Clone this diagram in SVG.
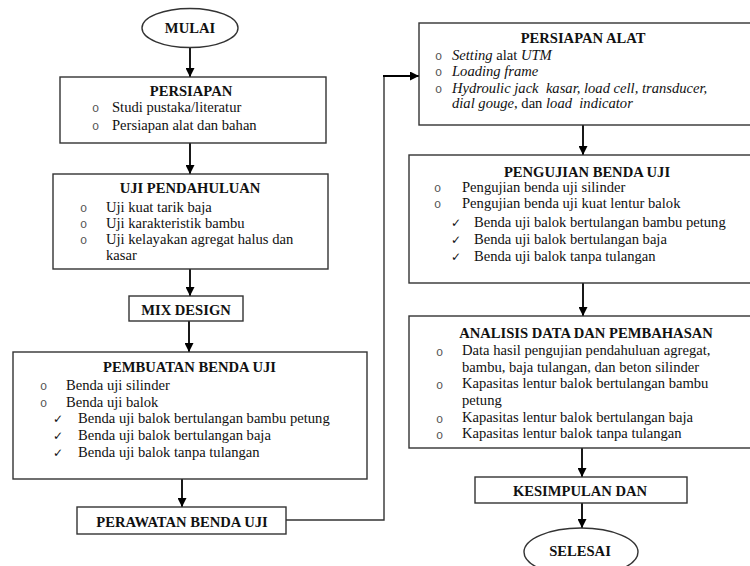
<svg xmlns="http://www.w3.org/2000/svg" width="750" height="566" viewBox="0 0 750 566">
<defs>
<marker id="ah" viewBox="0 0 10 10" refX="10" refY="5" markerWidth="5" markerHeight="5" orient="auto" markerUnits="strokeWidth">
<path d="M0,0 L10,5 L0,10 z" fill="#000"/>
</marker>
<style>
.box{fill:#fff;stroke:#333;stroke-width:1.4}
.t{font-family:"Liberation Serif","Times New Roman",serif;font-size:14.6px;fill:#111}
.h{font-family:"Liberation Serif","Times New Roman",serif;font-size:14.6px;font-weight:bold;fill:#111;text-anchor:middle}
.b{font-family:"Liberation Mono","Courier New",monospace;font-size:12px;fill:#555}
.c{font-family:"DejaVu Sans",sans-serif;font-size:12px;fill:#111}
.i{font-style:italic}
.con{fill:none;stroke:#000;stroke-width:1.8}
.lnk{fill:none;stroke:#333;stroke-width:1.4}
</style>
</defs>
<rect width="750" height="566" fill="#fff"/>

<g id="connectors">
<line class="con" x1="190" y1="47" x2="190" y2="77" marker-end="url(#ah)"/>
<line class="con" x1="190" y1="143" x2="190" y2="174" marker-end="url(#ah)"/>
<line class="con" x1="190" y1="269" x2="190" y2="296" marker-end="url(#ah)"/>
<line class="con" x1="189" y1="321" x2="189" y2="352" marker-end="url(#ah)"/>
<line class="con" x1="182" y1="479" x2="182" y2="507" marker-end="url(#ah)"/>
<polyline class="lnk" points="286,520 384,520 384,76 400,76"/>
<line class="con" x1="383" y1="76" x2="419" y2="76" marker-end="url(#ah)"/>
<line class="con" x1="583" y1="125" x2="583" y2="155" marker-end="url(#ah)"/>
<line class="con" x1="583" y1="283" x2="583" y2="316" marker-end="url(#ah)"/>
<line class="con" x1="582" y1="448" x2="582" y2="477" marker-end="url(#ah)"/>
<line class="con" x1="582" y1="503" x2="582" y2="528" marker-end="url(#ah)"/>
</g>

<g id="mulai">
<ellipse class="box" cx="190" cy="28" rx="48" ry="19.5"/>
<text class="h" x="190" y="33">MULAI</text>
</g>

<g id="persiapan">
<rect class="box" x="60" y="77" width="266" height="66"/>
<text class="h" x="191" y="96">PERSIAPAN</text>
<text class="b" x="92" y="112">o</text><text class="t" x="112" y="112">Studi pustaka/literatur</text>
<text class="b" x="92" y="130">o</text><text class="t" x="112" y="130">Persiapan alat dan bahan</text>
</g>

<g id="uji-pendahuluan">
<rect class="box" x="53" y="174" width="275" height="95"/>
<text class="h" x="190" y="193">UJI PENDAHULUAN</text>
<text class="b" x="80" y="212">o</text><text class="t" x="106" y="212">Uji kuat tarik baja</text>
<text class="b" x="80" y="228">o</text><text class="t" x="106" y="228">Uji karakteristik bambu</text>
<text class="b" x="80" y="244">o</text><text class="t" x="106" y="244">Uji kelayakan agregat halus dan</text>
<text class="t" x="106" y="260">kasar</text>
</g>

<g id="mix-design">
<rect class="box" x="129" y="296" width="114" height="25"/>
<text class="h" x="186" y="315">MIX DESIGN</text>
</g>

<g id="pembuatan">
<rect class="box" x="13" y="352" width="354" height="127"/>
<text class="h" x="189.5" y="372">PEMBUATAN BENDA UJI</text>
<text class="b" x="40" y="390">o</text><text class="t" x="66" y="390">Benda uji silinder</text>
<text class="b" x="40" y="407">o</text><text class="t" x="66" y="407">Benda uji balok</text>
<text class="c" x="53" y="423">✓</text><text class="t" x="78" y="423">Benda uji balok bertulangan bambu petung</text>
<text class="c" x="53" y="440">✓</text><text class="t" x="78" y="440">Benda uji balok bertulangan baja</text>
<text class="c" x="53" y="457">✓</text><text class="t" x="78" y="457">Benda uji balok tanpa tulangan</text>
</g>

<g id="perawatan">
<rect class="box" x="77" y="507" width="209" height="27"/>
<text class="h" x="182" y="527">PERAWATAN BENDA UJI</text>
</g>

<g id="persiapan-alat">
<rect class="box" x="419" y="23" width="345" height="102"/>
<text class="h" x="583" y="43">PERSIAPAN ALAT</text>
<text class="b" x="435" y="60">o</text><text class="t" x="452" y="60"><tspan class="i">Setting</tspan> alat <tspan class="i">UTM</tspan></text>
<text class="b" x="435" y="76">o</text><text class="t i" x="452" y="76">Loading frame</text>
<text class="b" x="435" y="93">o</text><text class="t i" x="452" y="93" xml:space="preserve">Hydroulic jack  kasar, load cell, transducer,</text>
<text class="t" x="452" y="108" xml:space="preserve"><tspan class="i">dial gouge</tspan>, dan <tspan class="i">load  indicator</tspan></text>
</g>

<g id="pengujian">
<rect class="box" x="409" y="155" width="355" height="128"/>
<text class="h" x="587" y="177">PENGUJIAN BENDA UJI</text>
<text class="b" x="434" y="192">o</text><text class="t" x="462" y="192">Pengujian benda uji silinder</text>
<text class="b" x="434" y="208">o</text><text class="t" x="462" y="208">Pengujian benda uji kuat lentur balok</text>
<text class="c" x="451" y="227">✓</text><text class="t" x="474" y="227">Benda uji balok bertulangan bambu petung</text>
<text class="c" x="451" y="244">✓</text><text class="t" x="474" y="244">Benda uji balok bertulangan baja</text>
<text class="c" x="451" y="261">✓</text><text class="t" x="474" y="261">Benda uji balok tanpa tulangan</text>
</g>

<g id="analisis">
<rect class="box" x="409" y="316" width="355" height="132"/>
<text class="h" x="586" y="338">ANALISIS DATA DAN PEMBAHASAN</text>
<text class="b" x="436" y="356">o</text><text class="t" x="462" y="355">Data hasil pengujian pendahuluan agregat,</text>
<text class="t" x="462" y="372">bambu, baja tulangan, dan beton silinder</text>
<text class="b" x="436" y="389">o</text><text class="t" x="462" y="388">Kapasitas lentur balok bertulangan bambu</text>
<text class="t" x="462" y="405">petung</text>
<text class="b" x="436" y="423">o</text><text class="t" x="462" y="422">Kapasitas lentur balok bertulangan baja</text>
<text class="b" x="436" y="439">o</text><text class="t" x="462" y="438">Kapasitas lentur balok tanpa tulangan</text>
</g>

<g id="kesimpulan">
<rect class="box" x="475" y="477" width="212" height="26"/>
<text class="h" x="580" y="496">KESIMPULAN DAN</text>
</g>

<g id="selesai">
<ellipse class="box" cx="581" cy="552" rx="57" ry="24"/>
<text class="h" x="580" y="556">SELESAI</text>
</g>
</svg>
